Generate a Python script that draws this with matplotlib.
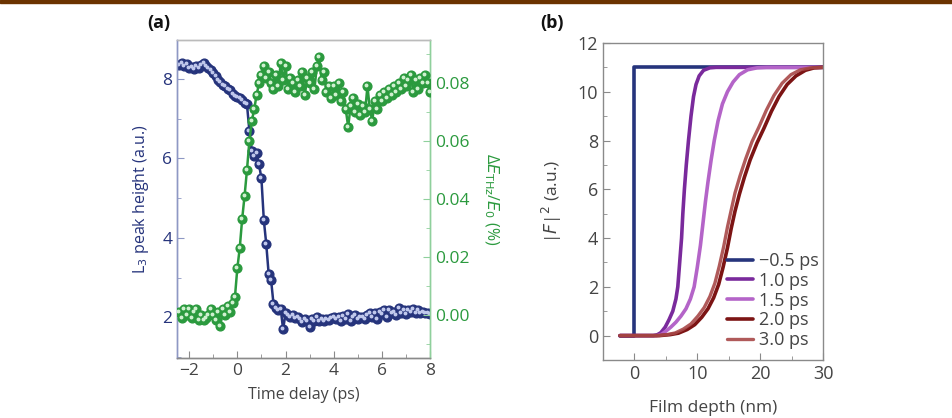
import numpy as np
import matplotlib.pyplot as plt
import matplotlib.transforms as mtransforms
from matplotlib.patches import Rectangle

plt.rcParams['font.family'] = ['Open Sans', 'DejaVu Sans']

# -----------------------------
# Panel (a) data
# -----------------------------

time_delay = np.round(np.arange(-2.4, 8.05, 0.1), 1)

l3_height = [
    8.35, 8.40, 8.32, 8.38, 8.28, 8.30, 8.25, 8.33, 8.28, 8.36,
    8.40, 8.32, 8.28, 8.22, 8.15, 8.08, 7.98, 7.92, 7.86, 7.82,
    7.74, 7.72, 7.62, 7.58, 7.55, 7.52, 7.48, 7.40, 7.36, 6.70,
    6.20, 6.05, 6.15, 5.85, 5.50, 4.45, 3.85, 3.10, 2.95, 2.35,
    2.25, 2.20, 2.22, 1.70, 2.10, 2.05, 2.00, 2.05, 1.98, 2.02,
    1.95, 1.88, 1.95, 1.90, 1.75, 1.95, 1.90, 2.00, 1.92, 1.95,
    1.90, 1.97, 1.93, 1.98, 2.02, 1.95, 2.00, 1.92, 2.03, 1.95,
    2.08, 1.90, 2.00, 2.05, 1.97, 2.00, 2.02, 1.95, 2.05, 2.10,
    2.00, 2.12, 1.95, 2.15, 2.08, 2.18, 2.02, 2.20, 2.10, 2.15,
    2.05, 2.25, 2.12, 2.20, 2.08, 2.18, 2.15, 2.22, 2.10, 2.18,
    2.12, 2.15, 2.10, 2.12, 2.08,
]

thz_change = [
    0.001, -0.001, 0.002, 0.000, 0.002, -0.001, 0.001, 0.002, -0.002, 0.000,
    -0.002, -0.001, 0.000, 0.002, 0.000, -0.002, 0.001, -0.004, 0.002, 0.000,
    0.003, 0.001, 0.004, 0.006, 0.016, 0.023, 0.033, 0.041, 0.050, 0.060,
    0.067, 0.071, 0.076, 0.080, 0.083, 0.086, 0.082, 0.084, 0.080, 0.078,
    0.083, 0.079, 0.087, 0.081, 0.086, 0.078, 0.082, 0.080, 0.077, 0.081,
    0.079, 0.084, 0.076, 0.082, 0.080, 0.084, 0.078, 0.086, 0.089, 0.081,
    0.084, 0.077, 0.079, 0.075, 0.079, 0.076, 0.080, 0.074, 0.077, 0.071,
    0.065, 0.072, 0.075, 0.070, 0.073, 0.069, 0.072, 0.070, 0.079, 0.071,
    0.067, 0.074, 0.071, 0.076, 0.074, 0.077, 0.075, 0.078, 0.076, 0.079,
    0.077, 0.080, 0.078, 0.082, 0.079, 0.081, 0.083, 0.077, 0.081, 0.078,
    0.082, 0.080, 0.083, 0.080, 0.077,
]

# -----------------------------
# Panel (b) data
# -----------------------------

depth_m05 = [-2.3, 0.0, 0.0, 30.0]
field_m05 = [0.0, 0.0, 11.0, 11.0]

depth_10 = [-2.3, 3.0, 3.6, 4.2, 4.9, 5.5, 6.1, 6.6, 6.9, 7.2, 7.5, 7.7,
            7.95, 8.25, 8.6, 9.0, 9.4, 9.8, 10.3, 11.0, 12.0, 13.0, 30.0]
field_10 = [0.0, 0.0, 0.03, 0.12, 0.35, 0.65, 1.0, 1.5, 2.0, 3.0, 4.0, 5.0,
            6.0, 7.0, 8.0, 9.0, 9.8, 10.3, 10.65, 10.88, 10.98, 11.0, 11.0]

depth_15 = [-2.3, 3.5, 4.3, 5.0, 5.8, 6.6, 7.4, 8.2, 8.9, 9.5, 10.0, 10.5,
            10.9, 11.3, 11.7, 12.2, 12.7, 13.3, 14.0, 14.8, 15.7, 16.7,
            18.0, 19.5, 21.0, 30.0]
field_15 = [0.0, 0.0, 0.05, 0.18, 0.35, 0.55, 0.8, 1.1, 1.5, 2.0, 2.8, 3.7,
            4.6, 5.5, 6.3, 7.2, 8.0, 8.8, 9.5, 10.0, 10.4, 10.7,
            10.9, 10.98, 11.0, 11.0]

depth_20 = [-2.3, 4.0, 5.7, 7.0, 8.4, 9.6, 10.7, 11.7, 12.6, 13.4, 14.1,
            14.8, 15.4, 16.0, 16.7, 17.5, 18.4, 19.5, 20.6, 21.8, 23.0,
            24.3, 25.7, 27.2, 28.6, 30.0]
field_20 = [0.0, 0.0, 0.04, 0.1, 0.25, 0.45, 0.75, 1.1, 1.55, 2.1, 2.8,
            3.6, 4.4, 5.1, 5.8, 6.5, 7.2, 7.9, 8.5, 9.2, 9.8,
            10.3, 10.65, 10.88, 10.98, 11.0]

depth_30 = [-2.3, 3.8, 5.2, 6.5, 7.8, 9.0, 10.1, 11.1, 12.0, 12.8, 13.5,
            14.2, 14.8, 15.4, 16.0, 16.8, 17.7, 18.7, 19.8, 21.0, 22.2,
            23.5, 24.9, 26.4, 28.0, 30.0]
field_30 = [0.0, 0.0, 0.04, 0.11, 0.27, 0.48, 0.8, 1.15, 1.6, 2.15, 2.85,
            3.65, 4.45, 5.15, 5.85, 6.55, 7.25, 7.95, 8.55, 9.25, 9.85,
            10.35, 10.7, 10.9, 10.98, 11.0]

legend_labels = ["\u22120.5 ps", "1.0 ps", "1.5 ps", "2.0 ps", "3.0 ps"]

# -----------------------------
# Colours
# -----------------------------

blue = "#26347c"
green = "#2b9a3e"
blue_axis = "#8e98c4"
green_axis = "#8fd09c"
grey = "#8a8a8a"
text_grey = "#444444"

fig = plt.figure(figsize=(9.52, 4.18), dpi=100)

# brown bar at the top
fig.patches.append(Rectangle((0, 0.993), 1, 0.007, transform=fig.transFigure,
                             color="#6b3300", zorder=10))

# -----------------------------
# Panel (a)
# -----------------------------

ax1 = fig.add_axes([0.186, 0.1435, 0.2658, 0.7608])
ax2 = ax1.twinx()

ax1.plot(time_delay, l3_height, color=blue, lw=1.8, marker="o", ms=6.3,
         mec=blue, mfc=blue, zorder=3)
ax2.plot(time_delay, thz_change, color=green, lw=1.8, marker="o", ms=6.3,
         mec=green, mfc=green, zorder=3)

# small highlight on each marker
shift1 = mtransforms.offset_copy(ax1.transData, fig=fig, x=-1, y=1, units="dots")
shift2 = mtransforms.offset_copy(ax2.transData, fig=fig, x=-1, y=1, units="dots")
ax1.plot(time_delay, l3_height, ls="none", marker="o", ms=1.8, color="#c0c8ec",
         transform=shift1, zorder=4)
ax2.plot(time_delay, thz_change, ls="none", marker="o", ms=1.8, color="#d0f0d0",
         transform=shift2, zorder=4)

ax1.set_xlim(-2.5, 8)
ax1.set_ylim(0.98, 8.98)
ax2.set_ylim(-0.015, 0.095)

ax1.set_xticks([-2, 0, 2, 4, 6, 8])
ax1.set_xticklabels(["\u22122", "0", "2", "4", "6", "8"])
ax1.set_xticks([-1, 1, 3, 5, 7], minor=True)
ax1.set_yticks([2, 4, 6, 8])
ax1.set_yticks([1, 3, 5, 7], minor=True)
ax2.set_yticks([0.0, 0.02, 0.04, 0.06, 0.08])
ax2.set_yticklabels(["0.00", "0.02", "0.04", "0.06", "0.08"])
ax2.set_yticks([-0.01, 0.01, 0.03, 0.05, 0.07, 0.09], minor=True)

ax1.tick_params(axis="x", which="both", direction="in", colors=grey,
                labelcolor=text_grey, labelsize=12.5)
ax1.tick_params(axis="x", which="major", length=5)
ax1.tick_params(axis="x", which="minor", length=3)
ax1.tick_params(axis="y", which="both", direction="in", colors=blue_axis,
                labelcolor=blue, labelsize=12.5)
ax1.tick_params(axis="y", which="major", length=5)
ax1.tick_params(axis="y", which="minor", length=3)
ax2.tick_params(axis="y", which="both", direction="in", colors=green_axis,
                labelcolor=green, labelsize=12.5)
ax2.tick_params(axis="y", which="major", length=5)
ax2.tick_params(axis="y", which="minor", length=3)

for ax in (ax1, ax2):
    ax.spines["left"].set_color(blue_axis)
    ax.spines["right"].set_color(green_axis)
    ax.spines["top"].set_color("#bbbbbb")
    ax.spines["bottom"].set_color(grey)
    for s in ax.spines.values():
        s.set_linewidth(1.0)

ax1.set_xlabel("Time delay (ps)", fontsize=11.5, color=text_grey, labelpad=6)
ax1.set_ylabel("L$_3$ peak height (a.u.)", fontsize=11.5, color=blue, labelpad=8)
ax2.set_ylabel("\u0394$E_{\\mathrm{THz}}$/$E_0$ (%)", fontsize=11.5, color=green,
               rotation=270, labelpad=22)

fig.text(0.155, 0.945, "(a)", fontsize=13, fontweight="bold", color="#111111",
         va="center")

# -----------------------------
# Panel (b)
# -----------------------------

ax3 = fig.add_axes([0.6334, 0.1388, 0.2311, 0.7584])

ax3.plot(depth_m05, field_m05, color="#26347c", lw=2.6, solid_capstyle="round",
         solid_joinstyle="round", label=legend_labels[0])
ax3.plot(depth_10, field_10, color="#7a2a9c", lw=2.6, solid_capstyle="round",
         solid_joinstyle="round", label=legend_labels[1])
ax3.plot(depth_15, field_15, color="#b464c8", lw=2.6, solid_capstyle="round",
         solid_joinstyle="round", label=legend_labels[2])
ax3.plot(depth_20, field_20, color="#7c1414", lw=2.6, solid_capstyle="round",
         solid_joinstyle="round", label=legend_labels[3])
ax3.plot(depth_30, field_30, color="#a84848", lw=2.4, alpha=0.9,
         solid_capstyle="round", solid_joinstyle="round", label=legend_labels[4])

ax3.set_xlim(-5, 30)
ax3.set_ylim(-1, 12)
ax3.set_xticks([0, 10, 20, 30])
ax3.set_xticks([5, 15, 25], minor=True)
ax3.set_yticks([0, 2, 4, 6, 8, 10, 12])
ax3.set_yticks([1, 3, 5, 7, 9, 11], minor=True)

ax3.tick_params(which="both", direction="in", colors=grey,
                labelcolor=text_grey, labelsize=13)
ax3.tick_params(which="major", length=5)
ax3.tick_params(which="minor", length=3)
for s in ax3.spines.values():
    s.set_color(grey)
    s.set_linewidth(1.0)

ax3.set_xlabel("Film depth (nm)", fontsize=12.5, color=text_grey, labelpad=12)
ax3.set_ylabel("|$F$|$^2$ (a.u.)", fontsize=12.5, color=text_grey, labelpad=10)

ax3.legend(loc="lower right", bbox_to_anchor=(1.03, 0.0), frameon=False,
           fontsize=13, handlelength=1.4, handletextpad=0.35,
           labelspacing=0.1, borderpad=0.1, labelcolor=text_grey)

fig.text(0.567, 0.945, "(b)", fontsize=13, fontweight="bold", color="#111111",
         va="center")

fig.savefig("out.png", dpi=100)
